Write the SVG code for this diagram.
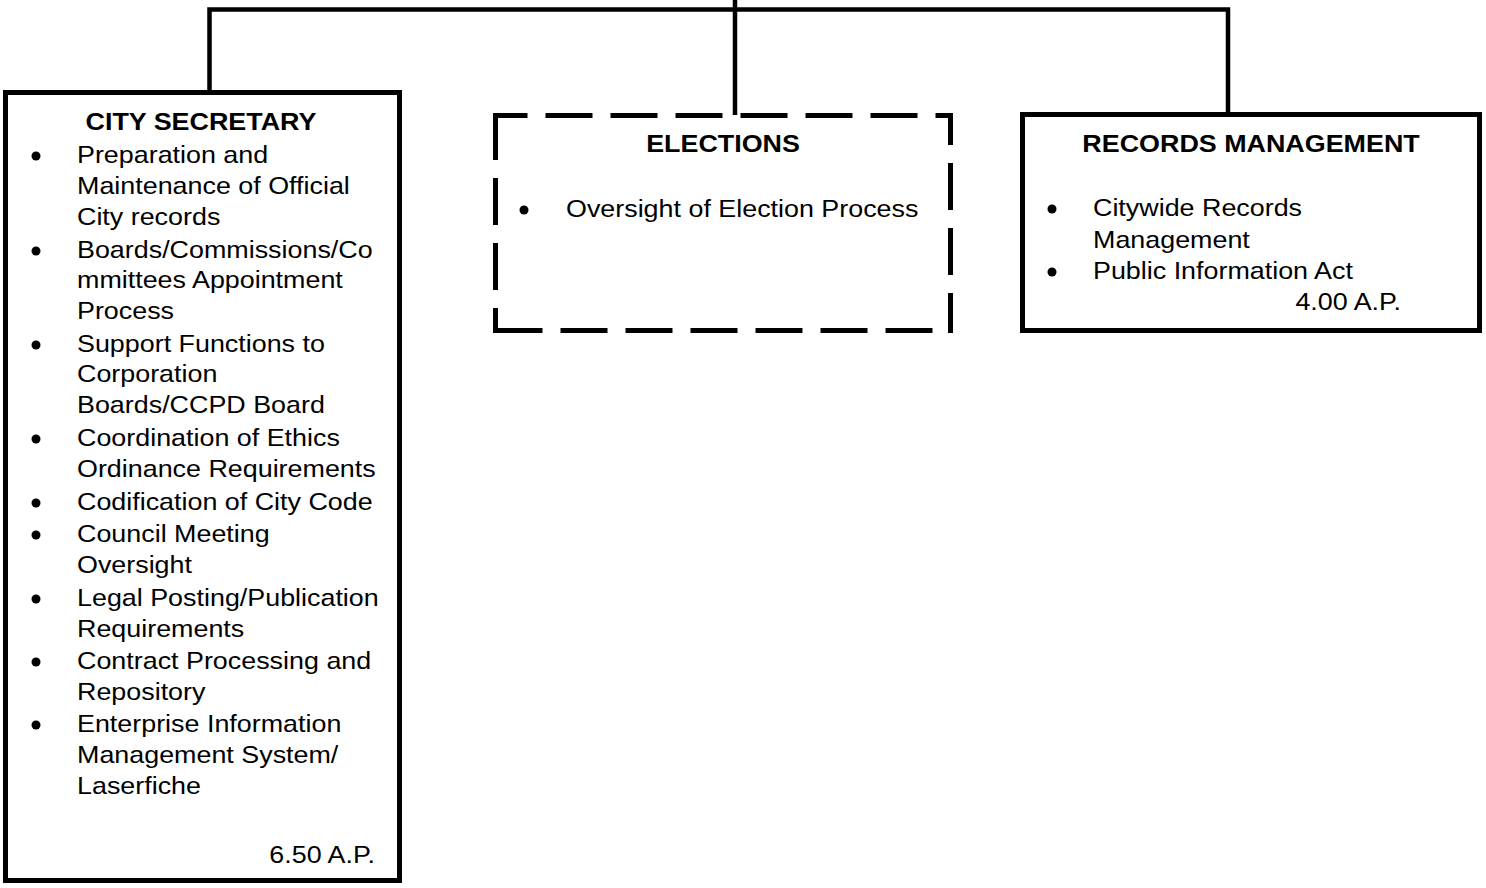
<svg xmlns="http://www.w3.org/2000/svg" width="1486" height="888" viewBox="0 0 1486 888">
  <style>
    .box { fill: #fff; stroke: #000; stroke-width: 5; }
    .dash { fill: none; stroke: #000; stroke-width: 5; stroke-dasharray: 47 18; }
    .wire { fill: none; stroke: #000; stroke-width: 4.5; stroke-linejoin: miter; }
    text { font-family: "Liberation Sans", Arial, sans-serif; font-size: 24px; fill: #000; }
    .title { font-weight: bold; text-anchor: middle; }
    .fte { text-anchor: end; }
    .dot { fill: #000; }
  </style>
  <rect width="1486" height="888" fill="#fff"/>

  <!-- connectors -->
  <g id="connectors">
    <path class="wire" d="M209.5 92 V9.5 H1228 V114"/>
    <path class="wire" d="M735 0 V115"/>
  </g>

  <!-- City Secretary -->
  <g id="city-secretary">
    <rect class="box" x="5.5" y="92.5" width="394" height="788"/>
    <g class="dot">
      <circle cx="36" cy="156" r="4.5"/>
      <circle cx="36" cy="251" r="4.5"/>
      <circle cx="36" cy="345" r="4.5"/>
      <circle cx="36" cy="439" r="4.5"/>
      <circle cx="36" cy="503" r="4.5"/>
      <circle cx="36" cy="535" r="4.5"/>
      <circle cx="36" cy="599" r="4.5"/>
      <circle cx="36" cy="662" r="4.5"/>
      <circle cx="36" cy="725" r="4.5"/>
    </g>
    <!-- wide-set text block -->
    <g transform="translate(77 0) scale(1.12 1)">
      <text class="title" x="110.7" y="130">CITY SECRETARY</text>
      <text x="0" y="163">Preparation and</text>
      <text x="0" y="194">Maintenance of Official</text>
      <text x="0" y="225">City records</text>
      <text x="0" y="258">Boards/Commissions/Co</text>
      <text x="0" y="288">mmittees Appointment</text>
      <text x="0" y="319">Process</text>
      <text x="0" y="352">Support Functions to</text>
      <text x="0" y="382">Corporation</text>
      <text x="0" y="413">Boards/CCPD Board</text>
      <text x="0" y="446">Coordination of Ethics</text>
      <text x="0" y="477">Ordinance Requirements</text>
      <text x="0" y="510">Codification of City Code</text>
      <text x="0" y="542">Council Meeting</text>
      <text x="0" y="573">Oversight</text>
      <text x="0" y="606">Legal Posting/Publication</text>
      <text x="0" y="637">Requirements</text>
      <text x="0" y="669">Contract Processing and</text>
      <text x="0" y="700">Repository</text>
      <text x="0" y="732">Enterprise Information</text>
      <text x="0" y="763">Management System/</text>
      <text x="0" y="794">Laserfiche</text>
      <text class="fte" x="266" y="863">6.50 A.P.</text>
    </g>
  </g>

  <!-- Elections (dashed outline) -->
  <g id="elections">
    <line class="dash" x1="495.5" y1="115.5" x2="951" y2="115.5" stroke-dashoffset="15"/>
    <line class="dash" x1="495.5" y1="330.5" x2="951" y2="330.5" stroke-dashoffset="0"/>
    <line class="dash" x1="495.5" y1="113" x2="495.5" y2="333"/>
    <line class="dash" x1="950.5" y1="113" x2="950.5" y2="333" stroke-dashoffset="15"/>
    <circle class="dot" cx="524" cy="210" r="4.5"/>
    <g transform="translate(566 0) scale(1.12 1)">
      <text class="title" x="140.2" y="152">ELECTIONS</text>
      <text x="0" y="217">Oversight of Election Process</text>
    </g>
  </g>

  <!-- Records Management -->
  <g id="records-management">
    <rect class="box" x="1022.5" y="114.5" width="457" height="216"/>
    <circle class="dot" cx="1052" cy="209" r="4.5"/>
    <circle class="dot" cx="1052" cy="272" r="4.5"/>
    <g transform="translate(1093 0) scale(1.12 1)">
      <text class="title" x="141.1" y="152">RECORDS MANAGEMENT</text>
      <text x="0" y="216">Citywide Records</text>
      <text x="0" y="248">Management</text>
      <text x="0" y="279">Public Information Act</text>
      <text class="fte" x="275" y="310">4.00 A.P.</text>
    </g>
  </g>
</svg>
